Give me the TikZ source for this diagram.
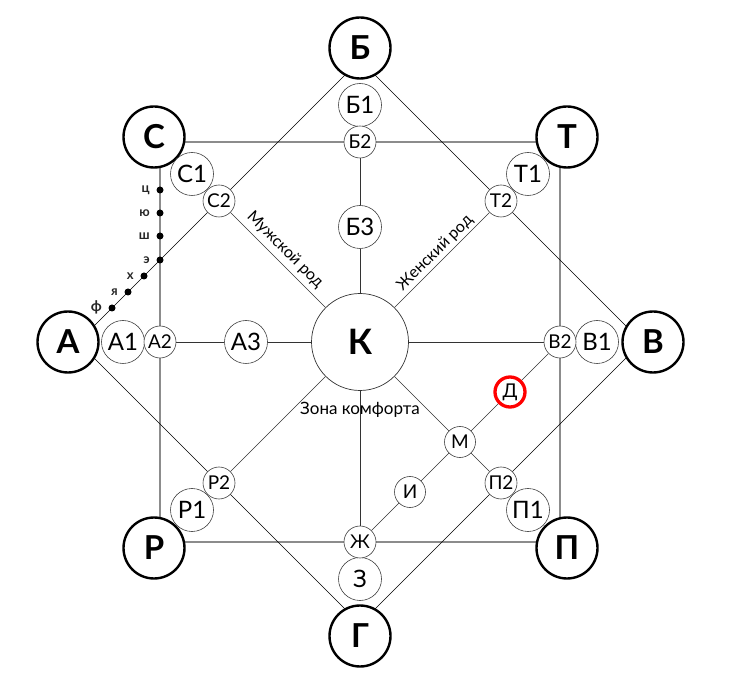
\documentclass[tikz,border=0pt]{standalone}
\usepackage{fontspec}
\setmainfont{Lato}
\usetikzlibrary{backgrounds}
\begin{document}
\begin{tikzpicture}[x=1pt,y=-1pt,
  big/.style={circle,draw=black,line width=2.4pt,fill=white,minimum size=61pt,inner sep=0pt,font=\bfseries\fontsize{33}{33}\selectfont},
  kbox/.style={circle,draw=black!80,line width=0.7pt,fill=white,minimum size=97pt,inner sep=0pt,font=\bfseries\fontsize{35}{35}\selectfont},
  one/.style={circle,draw=black!75,line width=0.6pt,fill=white,minimum size=43pt,inner sep=0pt,font=\fontsize{24}{24}\selectfont},
  two/.style={circle,draw=black!75,line width=0.6pt,fill=white,minimum size=32pt,inner sep=0pt,font=\fontsize{19}{19}\selectfont},
  mid/.style={circle,draw=black!75,line width=0.6pt,fill=white,minimum size=31pt,inner sep=0pt,font=\fontsize{19}{19}\selectfont},
  redbox/.style={circle,draw=red,line width=3.3pt,fill=white,minimum size=30pt,inner sep=0pt,font=\fontsize{19}{19}\selectfont},
  dotn/.style={circle,fill=black,minimum size=7pt,inner sep=0pt},
  dotlab/.style={font=\bfseries\fontsize{13}{13}\selectfont,text=black!85},
  sqline/.style={draw=black!45,line width=1.3pt},
  dmline/.style={draw=black,line width=0.6pt},
  inline/.style={draw=black!80,line width=0.6pt},
  captext/.style={font=\fontsize{16}{16}\selectfont}
]
\useasboundingbox (0,0) rectangle (734,692);
% corner coordinates
\coordinate (s1) at (160,142);
\coordinate (s2) at (560,142);
\coordinate (s3) at (560,542);
\coordinate (s4) at (160,542);
\coordinate (d1) at (360,60);
\coordinate (d2) at (642,342);
\coordinate (d3) at (360,624);
\coordinate (d4) at (78,342);
% centre
\node[kbox] (K) at (360,342) {К};
% outer
\node[big] (B) at (360,48) {Б};
\node[big] (C) at (154,137) {С};
\node[big] (T) at (567,137) {Т};
\node[big] (A) at (68,342) {А};
\node[big] (V) at (653,342) {В};
\node[big] (R) at (154,548) {Р};
\node[big] (P) at (567,548) {П};
\node[big] (G) at (360,636) {Г};
% ones
\node[one] (B1) at (360,105) {Б1};
\node[one] (V1) at (597,342) {В1};
\node[one] (Z) at (360,579) {З};
\node[one] (A1) at (123,342) {А1};
\node[one] (C1) at (192,174) {С1};
\node[one] (T1) at (528,174) {Т1};
\node[one] (P1) at (528,510) {П1};
\node[one] (R1) at (192,510) {Р1};
% twos
\node[two] (B2) at (360,142) {Б2};
\node[two] (V2) at (560,342) {В2};
\node[two] (Zh) at (360,542) {Ж};
\node[two] (A2) at (160,342) {А2};
\node[two] (C2) at (219,201) {С2};
\node[two] (T2) at (501,201) {Т2};
\node[two] (P2) at (501,483) {П2};
\node[two] (R2) at (219,483) {Р2};
% threes
\node[one] (B3) at (360,227) {Б3};
\node[one] (A3) at (246,342) {А3};
% inner line nodes
\node[mid] (M) at (460,442) {М};
\node[mid] (I) at (410,492) {И};
\node[redbox] (D) at (510,392) {Д};
% dots
\node[dotn] (ts) at (160,190) {};
\node[dotn] (yu) at (160,213) {};
\node[dotn] (sh) at (160,236) {};
\node[dotn] (ee) at (160,260) {};
\node[dotn] (kh) at (144,276) {};
\node[dotn] (ya) at (128,292) {};
\node[dotn] (ef) at (112,308) {};
\node[dotlab,anchor=east] (lts) at ([xshift=-3pt]ts.west) {ц};
\node[dotlab,anchor=east] (lyu) at ([xshift=-3pt]yu.west) {ю};
\node[dotlab,anchor=east] (lsh) at ([xshift=-3pt]sh.west) {ш};
\node[dotlab,anchor=east] (lee) at ([xshift=-3pt]ee.west) {э};
\node[dotlab,anchor=east] (lkh) at ([xshift=-3pt]kh.west) {х};
\node[dotlab,anchor=east] (lya) at ([xshift=-3pt]ya.west) {я};
\node[dotlab,anchor=east,font=\bfseries\fontsize{15}{15}\selectfont] (lef) at ([xshift=-3pt,yshift=1pt]ef.west) {ф};
% captions
\node[captext,rotate=-45] (male) at (285,250) {Мужской род};
\node[captext,rotate=45] (female) at (435,253) {Женский род};
\node[captext,font=\fontsize{17}{17}\selectfont] (zone) at (360,410) {Зона комфорта};
% lines
\begin{scope}[on background layer]
\draw[sqline] (s1) -- (s2) -- (s3) -- (s4) -- cycle;
\draw[dmline] (d1) -- (d2) -- (d3) -- (d4) -- cycle;
\draw[inline] (B2) -- (B3) -- (K);
\draw[inline] (A2) -- (A3) -- (K);
\draw[inline] (K) -- (V2);
\draw[inline] (K) -- (Zh);
\draw[inline] (C2) -- (K);
\draw[inline] (T2) -- (K);
\draw[inline] (R2) -- (K);
\draw[inline] (K) -- (M) -- (P2);
\draw[inline] (Zh) -- (I) -- (M) -- (D) -- (V2);
\end{scope}
\end{tikzpicture}
\end{document}
